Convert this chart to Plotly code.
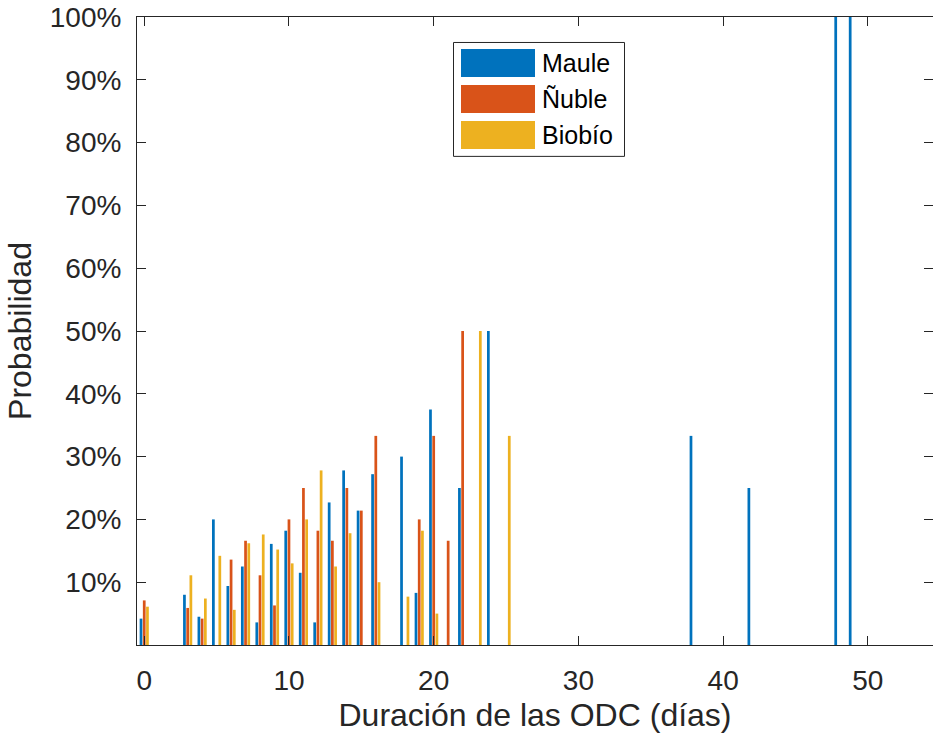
import plotly.graph_objects as go

# ---------------- data ----------------
maule_x = [0, 3, 4, 5, 6, 7, 8, 9, 10, 11, 12, 13, 14, 15, 16, 18, 19, 20, 22, 24, 38, 42, 48, 49]
maule_y = [0.042, 0.080, 0.045, 0.200, 0.094, 0.125, 0.036, 0.161, 0.182, 0.115,
           0.036, 0.227, 0.278, 0.214, 0.272, 0.300, 0.083, 0.375, 0.250, 0.500,
           0.333, 0.250, 1.0, 1.0]
nuble_x = [0, 3, 4, 6, 7, 8, 9, 10, 11, 12, 13, 14, 15, 16, 19, 20, 21, 22]
nuble_y = [0.071, 0.059, 0.042, 0.136, 0.166, 0.111, 0.063, 0.200, 0.250, 0.182,
           0.166, 0.250, 0.214, 0.333, 0.200, 0.333, 0.166, 0.500]
biobio_x = [0, 3, 4, 5, 6, 7, 8, 9, 10, 11, 12, 13, 14, 16, 18, 19, 20, 23, 25]
biobio_y = [0.061, 0.111, 0.074, 0.142, 0.056, 0.162, 0.176, 0.152, 0.130, 0.200,
            0.278, 0.125, 0.178, 0.100, 0.077, 0.182, 0.050, 0.500, 0.333]

series_names = ["Maule", "Ñuble", "Biobío"]
series_colors = ["#0072BD", "#D95319", "#EDB120"]

y_tick_vals = [0.1, 0.2, 0.3, 0.4, 0.5, 0.6, 0.7, 0.8, 0.9, 1.0]
y_tick_text = ["10%", "20%", "30%", "40%", "50%", "60%", "70%", "80%", "90%", "100%"]
x_tick_vals = [0, 10, 20, 30, 40, 50]

# ---------------- figure ----------------
W, H = 933, 738
ML, MR, MT, MB = 137, 0, 17, 92.5
PW, PH = W - ML - MR, H - MT - MB

fig = go.Figure()
for name, xs, ys, col in zip(series_names,
                             [maule_x, nuble_x, biobio_x],
                             [maule_y, nuble_y, biobio_y],
                             series_colors):
    fig.add_trace(go.Bar(x=xs, y=ys, name=name, marker=dict(color=col, line=dict(width=0)),
                         showlegend=False))

axis_col = "#262626"
font_family = "Liberation Sans, Arial, Helvetica, sans-serif"

fig.update_layout(
    width=W, height=H,
    margin=dict(l=ML, r=MR, t=MT, b=MB, pad=0),
    paper_bgcolor="white", plot_bgcolor="white",
    barmode="group", bargap=1/3, bargroupgap=0.15,
    font=dict(family=font_family, color=axis_col),
)
fig.update_xaxes(
    range=[-0.5, 54.5], tickvals=x_tick_vals, ticks="inside", ticklen=9,
    tickcolor=axis_col, showline=True, linecolor=axis_col, linewidth=1, mirror="ticks",
    showgrid=False, zeroline=False, tickfont=dict(size=28, color=axis_col),
    ticklabelstandoff=10,
    title=dict(text="Duración de las ODC (días)", font=dict(size=32, color=axis_col), standoff=9),
)
fig.update_yaxes(
    range=[0, 1], tickvals=y_tick_vals, ticktext=y_tick_text, ticks="inside", ticklen=9,
    tickcolor=axis_col, showline=True, linecolor=axis_col, linewidth=1, mirror="ticks",
    showgrid=False, zeroline=False, tickfont=dict(size=28, color=axis_col),
    ticklabelstandoff=9,
    title=dict(text="Probabilidad", font=dict(size=32, color=axis_col), standoff=8),
)

# ---------------- manual legend (pixel layout -> paper coords) ----------------
def px(xp):
    return (xp - ML) / PW

def py(yp):
    return (H - MB - yp) / PH

fig.add_shape(type="rect", xref="paper", yref="paper",
              x0=px(453.5), x1=px(624.5), y0=py(42.5), y1=py(156.5),
              line=dict(color=axis_col, width=1), fillcolor="white", layer="above")
sw_tops = [49, 85, 121]
for name, col, top in zip(series_names, series_colors, sw_tops):
    fig.add_shape(type="rect", xref="paper", yref="paper",
                  x0=px(461), x1=px(535), y0=py(top), y1=py(top + 28),
                  line=dict(width=0), fillcolor=col, layer="above")
    fig.add_annotation(xref="paper", yref="paper", x=px(540), y=py(top + 14),
                       text=name, showarrow=False, xanchor="left", yanchor="middle",
                       font=dict(size=25, color="black", family=font_family))

fig.write_html("out.html")
